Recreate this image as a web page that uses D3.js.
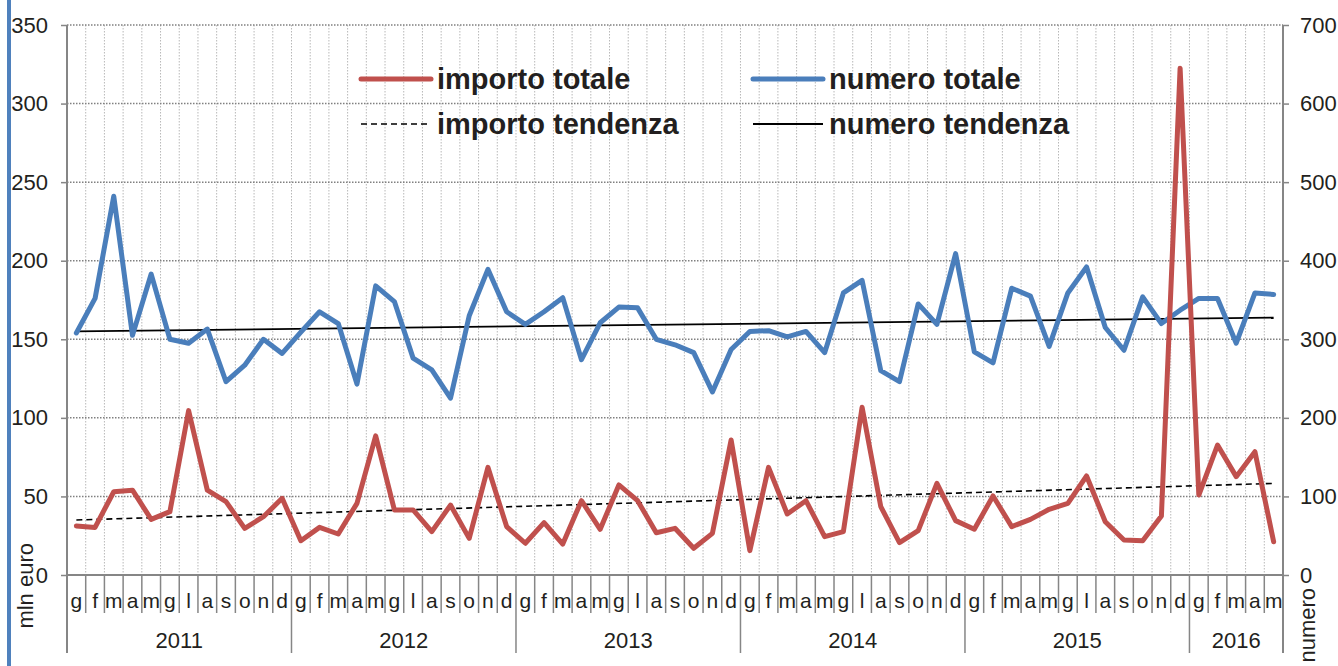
<!DOCTYPE html>
<html>
<head>
<meta charset="utf-8">
<script src="https://cdn.jsdelivr.net/npm/d3@7"></script>
<style>
  body { margin: 0; background: #fff; }
  svg { display: block; font-family: "Liberation Sans", Arial, sans-serif; }
</style>
</head>
<body>
<div id="chart"></div>
<script>
const years = [2011, 2012, 2013, 2014, 2015, 2016];
const monthLabels = ['g', 'f', 'm', 'a', 'm', 'g', 'l', 'a', 's', 'o', 'n', 'd'];
const monthsPerYear = [12, 12, 12, 12, 12, 5];

// mln euro (left axis)
const importoTotale = [
  31.2, 30.3, 53, 54, 35.4, 40.3, 104.6, 54, 46.7, 29.7, 37.1, 48.8,
  21.8, 30.3, 26.1, 45.6, 88.5, 41.4, 41.4, 27.6, 44.5, 23.3, 68.5, 30.8,
  20.2, 33.3, 19.7, 47.3, 29.1, 57.3, 47.3, 26.9, 29.7, 17, 26.5, 85.9,
  15.5, 68.5, 38.8, 47.3, 24.4, 27.6, 106.7, 43.5, 20.6, 28.2, 58.3, 34.6,
  29.1, 50.3, 30.8, 35.4, 41.8, 45.6, 63, 33.9, 22.3, 21.8, 37.5, 322.5,
  50.9, 82.7, 62.6, 78.5, 21.2
];
// numero (right axis)
const numeroTotale = [
  308, 352, 482, 305, 383, 300, 295, 313, 246, 267, 300, 282,
  309, 335, 320, 243, 368, 348, 276, 261, 225, 330, 389, 335,
  319, 335, 353, 274, 321, 341, 340, 300, 293, 283, 233, 287,
  310, 311, 303, 310, 283, 359, 375, 260, 246, 345, 319, 409,
  284, 270, 365, 355, 291, 359, 392, 315, 286, 354, 320, 337,
  352, 352, 295, 359, 357
];
// trend lines: value at first and last month
const importoTendenza = [35, 58.3];
const numeroTendenza = [310, 327.5];

const leftTicks = [0, 50, 100, 150, 200, 250, 300, 350];
const rightTicks = [0, 100, 200, 300, 400, 500, 600, 700];

const width = 1338;
const height = 666;
const margin = { top: 25, right: 55, bottom: 91, left: 67 };

const categories = [];
years.forEach((year, yi) => {
  for (let m = 0; m < monthsPerYear[yi]; m++) {
    categories.push({ year: year, month: monthLabels[m] });
  }
});

const x = d3.scaleBand().domain(d3.range(categories.length)).range([margin.left, width - margin.right]);
const yLeft = d3.scaleLinear().domain([0, 350]).range([height - margin.bottom, margin.top]);
const yRight = d3.scaleLinear().domain([0, 700]).range([height - margin.bottom, margin.top]);
const cx = (i) => x(i) + x.bandwidth() / 2;
const x0 = margin.left;
const x1 = width - margin.right;
const yBase = yLeft(0);

const svg = d3.select('#chart').append('svg').attr('width', width).attr('height', height);

// blue stripe on the left edge
svg.append('rect').attr('x', 7).attr('y', 0).attr('width', 4).attr('height', height).attr('fill', '#4f81bd');

// vertical gridlines
svg.append('g').selectAll('line').data(d3.range(1, categories.length)).join('line')
  .attr('x1', (i) => x(i)).attr('x2', (i) => x(i))
  .attr('y1', margin.top).attr('y2', yBase)
  .attr('stroke', '#b8b8b8').attr('stroke-width', 1).attr('stroke-dasharray', '1.5,1.5');

// horizontal gridlines
svg.append('g').selectAll('line').data(leftTicks.slice(1)).join('line')
  .attr('x1', x0).attr('x2', x1)
  .attr('y1', (d) => yLeft(d)).attr('y2', (d) => yLeft(d))
  .attr('stroke', '#808080').attr('stroke-width', 1.5).attr('stroke-dasharray', '1.5,1.5');

// left axis
const leftAxis = svg.append('g').attr('transform', `translate(${x0},0)`)
  .call(d3.axisLeft(yLeft).tickValues(leftTicks).tickSize(6).tickPadding(13));
leftAxis.select('.domain').remove();
leftAxis.selectAll('line').attr('stroke', '#868686').attr('stroke-width', 1.5);
leftAxis.selectAll('text').attr('font-size', 22).attr('fill', '#231f20').attr('font-family', '"Liberation Sans", Arial, sans-serif');

// right axis
const rightAxis = svg.append('g').attr('transform', `translate(${x1},0)`)
  .call(d3.axisRight(yRight).tickValues(rightTicks).tickSize(6).tickPadding(11));
rightAxis.select('.domain').remove();
rightAxis.selectAll('line').attr('stroke', '#868686').attr('stroke-width', 1.5);
rightAxis.selectAll('text').attr('font-size', 22).attr('fill', '#231f20').attr('font-family', '"Liberation Sans", Arial, sans-serif');

// axis frame lines
svg.append('line').attr('x1', x0).attr('x2', x0).attr('y1', margin.top).attr('y2', 653)
  .attr('stroke', '#868686').attr('stroke-width', 2);
svg.append('line').attr('x1', x1).attr('x2', x1).attr('y1', margin.top).attr('y2', 653)
  .attr('stroke', '#868686').attr('stroke-width', 2);
svg.append('line').attr('x1', x0).attr('x2', x1).attr('y1', yBase).attr('y2', yBase)
  .attr('stroke', '#868686').attr('stroke-width', 2);

// month separators and labels
svg.append('g').selectAll('line').data(d3.range(1, categories.length)).join('line')
  .attr('x1', (i) => x(i)).attr('x2', (i) => x(i))
  .attr('y1', yBase).attr('y2', (i) => categories[i].year !== categories[i - 1].year ? 653 : 613)
  .attr('stroke', '#868686').attr('stroke-width', 1.5);

svg.append('g').selectAll('text').data(categories).join('text')
  .attr('x', (d, i) => cx(i)).attr('y', 608)
  .attr('text-anchor', 'middle').attr('font-size', 21).attr('fill', '#231f20')
  .text((d) => d.month);

// year labels
let start = 0;
years.forEach((year, yi) => {
  const n = monthsPerYear[yi];
  const mid = (x(start) + x(start + n - 1) + x.bandwidth()) / 2;
  svg.append('text').attr('x', mid).attr('y', 648)
    .attr('text-anchor', 'middle').attr('font-size', 22).attr('fill', '#231f20')
    .text(year);
  start += n;
});

// axis titles
svg.append('text').attr('transform', 'translate(33,543) rotate(-90)')
  .attr('text-anchor', 'end').attr('font-size', 22).attr('fill', '#231f20').text('mln euro');
svg.append('text').attr('transform', 'translate(1315,588) rotate(-90)')
  .attr('text-anchor', 'end').attr('font-size', 22).attr('fill', '#231f20').text('numero');

// trend lines
const last = categories.length - 1;
svg.append('line')
  .attr('x1', cx(0)).attr('x2', cx(last))
  .attr('y1', yLeft(importoTendenza[0])).attr('y2', yLeft(importoTendenza[1]))
  .attr('stroke', '#000').attr('stroke-width', 1.6).attr('stroke-dasharray', '6,4');
svg.append('line')
  .attr('x1', cx(0)).attr('x2', cx(last))
  .attr('y1', yRight(numeroTendenza[0])).attr('y2', yRight(numeroTendenza[1]))
  .attr('stroke', '#000').attr('stroke-width', 1.8);

// series lines
const lineLeft = d3.line().x((d, i) => cx(i)).y((d) => yLeft(d));
const lineRight = d3.line().x((d, i) => cx(i)).y((d) => yRight(d));

svg.append('path').datum(numeroTotale).attr('d', lineRight)
  .attr('fill', 'none').attr('stroke', '#4a7ebb').attr('stroke-width', 5)
  .attr('stroke-linejoin', 'round').attr('stroke-linecap', 'round');
svg.append('path').datum(importoTotale).attr('d', lineLeft)
  .attr('fill', 'none').attr('stroke', '#c0504d').attr('stroke-width', 5)
  .attr('stroke-linejoin', 'round').attr('stroke-linecap', 'round');

// legend
const legend = [
  { label: 'importo totale', x: 361, y: 79, color: '#c0504d', width: 5, dash: null },
  { label: 'numero totale', x: 753, y: 79, color: '#4a7ebb', width: 5, dash: null },
  { label: 'importo tendenza', x: 361, y: 124, color: '#000', width: 1.6, dash: '6,4' },
  { label: 'numero tendenza', x: 753, y: 124, color: '#000', width: 1.8, dash: null }
];
const lg = svg.append('g').selectAll('g').data(legend).join('g');
lg.append('line')
  .attr('x1', (d) => d.x).attr('x2', (d) => d.x + 70)
  .attr('y1', (d) => d.y).attr('y2', (d) => d.y)
  .attr('stroke', (d) => d.color).attr('stroke-width', (d) => d.width)
  .attr('stroke-linecap', (d) => d.width > 3 ? 'round' : 'butt')
  .attr('stroke-dasharray', (d) => d.dash);
lg.append('text')
  .attr('x', (d) => d.x + 76).attr('y', (d) => d.y + 10)
  .attr('font-size', 29).attr('font-weight', 'bold').attr('fill', '#231f20')
  .text((d) => d.label);
</script>
</body>
</html>
